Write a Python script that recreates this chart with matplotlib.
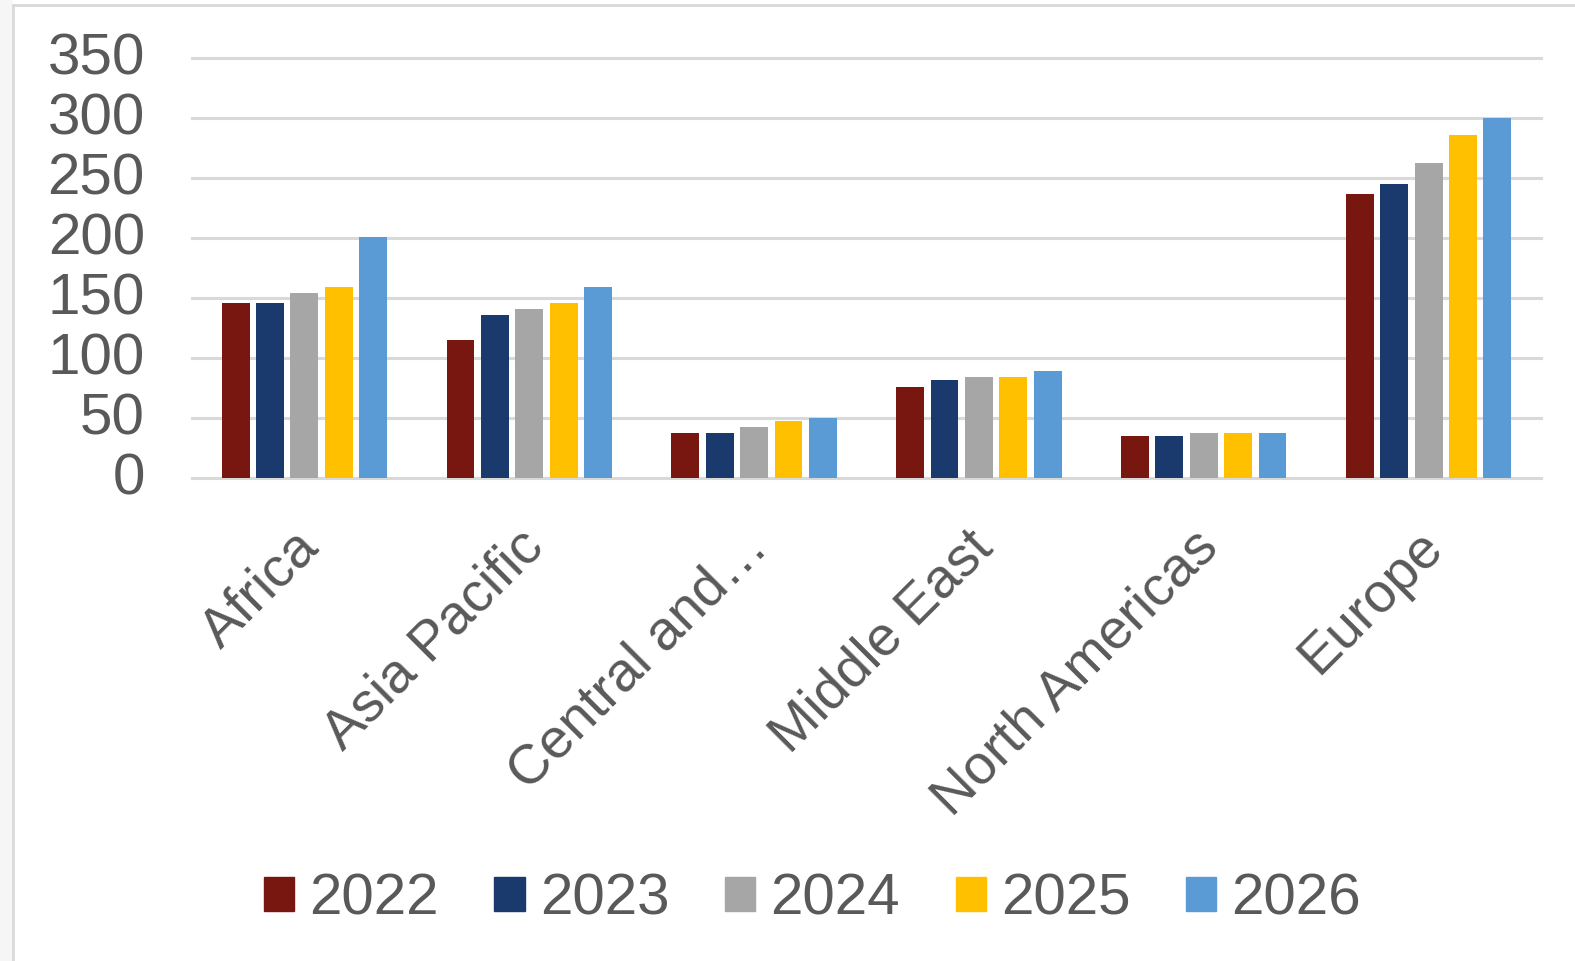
import numpy as np
import matplotlib
matplotlib.use("Agg")
import matplotlib.pyplot as plt
import matplotlib.transforms as mtransforms
from matplotlib.patches import Rectangle
from matplotlib.lines import Line2D

plt.rcParams['font.family'] = ['Liberation Sans', 'DejaVu Sans']

# regions and yearly values
regions = ["Africa", "Asia Pacific", "Central and…", "Middle East",
           "North Americas", "Europe"]
years = ["2022", "2023", "2024", "2025", "2026"]
v2022 = [146, 115, 37.5, 76, 35, 237]
v2023 = [146, 136, 37.5, 82, 35, 245]
v2024 = [154, 141, 42.5, 84, 37.5, 263]
v2025 = [159, 146, 47.5, 84, 37.5, 286]
v2026 = [201, 159, 50, 89, 37.5, 300]
series = [v2022, v2023, v2024, v2025, v2026]
colors = ["#781710", "#1a3a6e", "#a6a6a6", "#ffc000", "#5b9bd5"]

txt_color = "#595959"
grid_color = "#d9d9d9"
fs = 42

fig = plt.figure(figsize=(15.75, 9.61), dpi=100)
ax = fig.add_axes([192/1575, 1-478/961, 1349/1575, (478-58.3)/961])

x = np.arange(len(regions))
step = 0.153
width = 0.124
for j, vals in enumerate(series):
    ax.bar(x + (j-2)*step, vals, width, color=colors[j], zorder=3, label=years[j])

ax.set_xlim(-0.5, len(regions)-0.5)
ax.set_ylim(0, 350)
ax.set_yticks(np.arange(0, 351, 50))
# labels end a little right of each group centre
ax.set_xticks(x + 0.11)
ax.set_xticklabels(regions, rotation=45, ha='right', va='top', fontsize=40)

for s in ax.spines.values():
    s.set_visible(False)
ax.yaxis.grid(True, color=grid_color, linewidth=2.2, zorder=0)
ax.xaxis.grid(False)
ax.set_axisbelow(True)
for l in ax.get_ygridlines():
    l.set_clip_on(False)

ax.tick_params(axis='both', length=0, labelcolor=txt_color)
ax.tick_params(axis='y', pad=34, labelsize=fs)
ax.tick_params(axis='x', pad=31)

# nudge y labels up a few pixels
up = mtransforms.ScaledTranslation(0, 0.05, fig.dpi_scale_trans)
for lbl in ax.get_yticklabels():
    lbl.set_transform(lbl.get_transform() + up)

handles = [Rectangle((0, 0), 1, 1, color=c) for c in colors]
fig.legend(handles, years, loc='center', bbox_to_anchor=(0.516, 0.064),
           ncol=5, frameon=False, fontsize=fs, labelcolor=txt_color,
           handlelength=0.52, handleheight=0.52, handletextpad=0.26,
           columnspacing=0.95)

# outer chart border
fig.patches.append(Rectangle((0, 0), 11/1575, 1, transform=fig.transFigure,
                             color="#f6f6f6", zorder=0))
fig.lines.append(Line2D([13/1575, 13/1575], [0, 1-5/961], transform=fig.transFigure,
                        color=grid_color, linewidth=2))
fig.lines.append(Line2D([13/1575, 1], [1-5/961, 1-5/961], transform=fig.transFigure,
                        color=grid_color, linewidth=2))

fig.savefig("out.png", dpi=100)
